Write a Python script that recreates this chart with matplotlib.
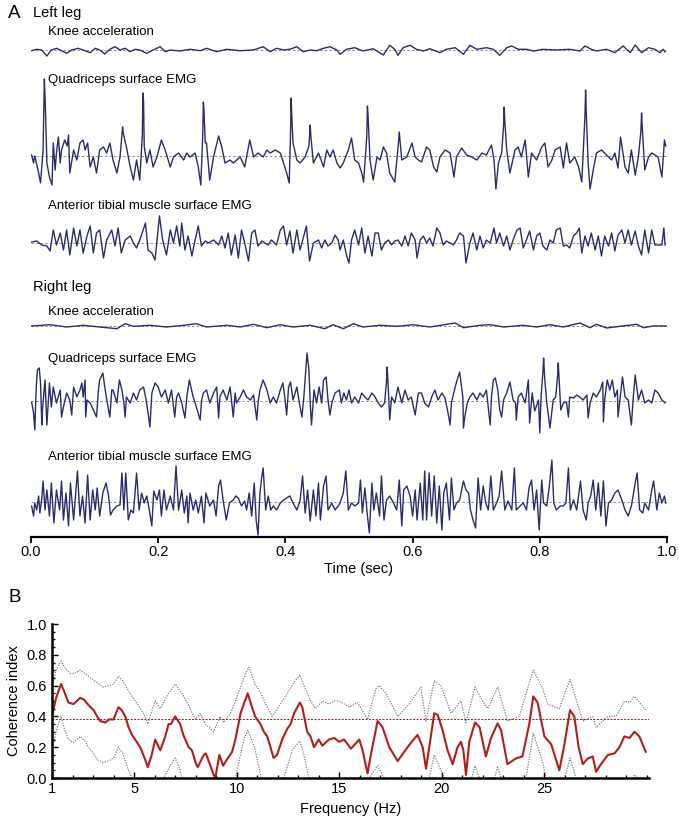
import numpy as np
import matplotlib.pyplot as plt
from matplotlib.ticker import MultipleLocator, FixedLocator

plt.rcParams['font.family'] = ['Liberation Sans', 'DejaVu Sans']

# ---- panel A: traces, (time in ms, amplitude in arbitrary units) ----
knee_left = [(1, -0.7), (9, 0.7), (17, 0), (25, -6), (32, 0), (40, 1.7), (48, -0.7), (56, -3.3),
             (64, 0), (74, 1.7), (82, 0), (93, -2.7), (101, 1.7), (108, 0), (116, -4), (124, 0.7),
             (132, 3.3), (140, 0), (148, 1.7), (156, -1.7), (164, 0.7), (171, 0), (182, -3.3),
             (192, 0), (203, 3.3), (211, -1.7), (219, 0), (234, -1), (250, 0.7), (266, -0.7),
             (276, 1.7), (292, -1.7), (308, 0.7), (329, -0.7), (350, 0), (365, 3.3), (376, -1.7),
             (386, 1.7), (397, 0), (407, 0.7), (418, 3.3), (428, -1.7), (439, 0), (449, -0.7),
             (460, 1.7), (470, 3.3), (481, 0), (486, -4.3), (496, 0.7), (509, 2.3), (522, -1),
             (538, 1.3), (554, -5), (564, 4.7), (572, 0.7), (577, -5.3), (585, 2.3), (596, 4.7),
             (606, 0.7), (617, -1), (627, 1.3), (643, -2.7), (653, 0.7), (667, 2.3), (680, -4.3),
             (690, 4.7), (701, 0.7), (716, 2.3), (727, 0.7), (737, -5.3), (748, 2.3), (756, 4),
             (766, 0.7), (779, 0.7), (790, -1), (805, 0.7), (826, 0), (847, 0.7), (863, -1),
             (871, 4), (881, 0.7), (889, -1), (905, 0.7), (918, -2.7), (931, 4), (942, -2.7),
             (950, 5), (960, -2.7), (971, 2.3), (981, 0.7), (989, -2.7), (994, 0.7), (997, -2)]

quad_left = [(1, 1), (4, -7), (6, 0), (12, -17), (15, -27), (19, 6), (21, 77), (22, 60), (23, 40),
             (25, -7), (29, -21), (33, -29), (35, 13), (38, -14), (40, 3), (43, 19), (46, -7),
             (48, 6), (53, 16), (57, 10), (59, 21), (61, -17), (67, 6), (72, -4), (77, 13),
             (82, 16), (85, 6), (89, 13), (93, -11), (98, -1), (103, -17), (108, 6), (114, 9),
             (119, 3), (124, 13), (129, -4), (135, -17), (140, -1), (144, 29), (145, 23), (150, 9),
             (156, -11), (161, -24), (166, -4), (171, -24), (175, 20), (176, 63), (177, 55),
             (178, 10), (182, -7), (187, 6), (192, -11), (198, -1), (205, 16), (211, 6),
             (219, -11), (224, -1), (232, 3), (240, -4), (245, 3), (250, -1), (258, 3), (263, -11),
             (267, -29), (270, 20), (271, 54), (272, 45), (274, 13), (276, 13), (281, -24),
             (287, -1), (295, 20), (300, 9), (305, -7), (313, -4), (318, -7), (329, -1),
             (336, -11), (344, 16), (350, -1), (357, 3), (365, -1), (371, 6), (376, 3), (384, 6),
             (392, 3), (397, -7), (402, -17), (406, -27), (408, 20), (409, 58), (410, 40),
             (412, 13), (418, -4), (423, -7), (431, -1), (437, 10), (439, 31), (440, 20),
             (444, -7), (452, 3), (460, -11), (465, 6), (470, -1), (475, 6), (481, -7),
             (486, -12), (491, -7), (499, 6), (504, 18), (509, -4), (515, -7), (520, -17),
             (523, -26), (528, 20), (529, 50), (530, 40), (533, -4), (538, -24), (544, -1),
             (549, -4), (554, 9), (559, 3), (564, -17), (572, -26), (578, 15), (579, 24),
             (581, 10), (583, -4), (591, -1), (599, 13), (604, -1), (609, -4), (614, -6),
             (622, 9), (627, 6), (633, -11), (638, -16), (643, -1), (651, 6), (659, 3),
             (665, -21), (669, -1), (677, 8), (685, 1), (693, -1), (701, -4), (709, 3), (716, 1),
             (724, 11), (728, -4), (731, -33), (735, -7), (740, 3), (743, 30), (744, 49),
             (745, 35), (748, 6), (753, -17), (761, 6), (766, 9), (771, -1), (777, 16),
             (782, -21), (787, 3), (795, -4), (803, 9), (808, 13), (813, -11), (819, -4),
             (824, 6), (832, 9), (837, -12), (842, 13), (847, -7), (855, -1), (861, -11),
             (866, -26), (871, 40), (872, 66), (873, 45), (876, -7), (879, -33), (884, -14),
             (889, 3), (897, 6), (905, 1), (913, -4), (918, 3), (923, -12), (927, 19),
             (934, -11), (939, -17), (944, 6), (950, -19), (955, -1), (959, 25), (960, 43),
             (961, 30), (965, -14), (971, -1), (976, 3), (981, 1), (986, -1), (992, -21),
             (996, 16), (998, 10)]

tib_left = [(1, 1), (9, 2), (17, -2), (25, -3), (30, -8), (35, 13), (40, -2), (46, 10), (51, -7),
            (56, 13), (61, -12), (67, 15), (72, -3), (77, 13), (82, -10), (88, 7), (93, 17),
            (98, -10), (103, 10), (108, 13), (114, -15), (119, 3), (127, 13), (132, -3),
            (137, 15), (142, -10), (148, 3), (156, 7), (161, 0), (166, -5), (171, 3), (180, 20),
            (184, -7), (190, -10), (195, -17), (202, 27), (207, 3), (213, -12), (219, 13),
            (224, 0), (229, 17), (234, -3), (237, 20), (242, -7), (247, 7), (253, -13), (258, 3),
            (263, 17), (268, -3), (274, 2), (279, 0), (287, 3), (295, -2), (300, 7), (305, -5),
            (310, 10), (315, -12), (321, 8), (326, -15), (331, 13), (336, 0), (342, -18),
            (347, 10), (352, 13), (357, -3), (363, 2), (368, 0), (373, -2), (378, 3), (386, -2),
            (392, 13), (397, 17), (402, -2), (407, 12), (412, -10), (418, 13), (423, -7),
            (428, 5), (433, 17), (438, -18), (444, 0), (452, 3), (457, -5), (462, 3), (467, -3),
            (473, 0), (478, 8), (483, 3), (486, -7), (491, 3), (496, -12), (500, -20), (504, 3),
            (509, 13), (515, -2), (520, 15), (525, -10), (530, 7), (536, -13), (541, 10),
            (546, 10), (551, -7), (556, 0), (562, 3), (567, -2), (572, 2), (577, 3), (583, -3),
            (588, 7), (593, -3), (598, 10), (604, 3), (607, -15), (612, 3), (617, 7), (622, 0),
            (627, 5), (632, -3), (638, 15), (643, 10), (648, -2), (653, 2), (659, 0), (664, -2),
            (669, 3), (674, 10), (680, 7), (684, -20), (690, 0), (695, 10), (701, -7), (706, 7),
            (711, -5), (716, 3), (722, 0), (728, 15), (732, 0), (737, 10), (743, -3), (748, 7),
            (753, -7), (758, 3), (764, 13), (769, 15), (774, -5), (779, 3), (784, 12), (790, -7),
            (795, 7), (800, 10), (805, -3), (811, -7), (816, 3), (821, 0), (826, 13), (832, 15),
            (837, -3), (842, -2), (847, -5), (853, 7), (858, 10), (862, 15), (866, -10),
            (871, 7), (876, -3), (881, 10), (887, -7), (892, 7), (897, -13), (902, 7), (908, -3),
            (913, 10), (918, -8), (923, 8), (929, 13), (934, 0), (939, 13), (944, -2), (950, 12),
            (955, -3), (960, -12), (965, 13), (971, -10), (976, 13), (981, -2), (986, -2),
            (992, -2), (995, 15), (997, -2)]

knee_right = [(1, 0), (30, 1.3), (56, -1), (82, 0.7), (108, -1), (135, -2.7), (148, 2.3),
              (161, -0.3), (187, 0.7), (213, -1), (240, 0.7), (260, 2.3), (276, -1), (308, 0.7),
              (329, -1), (350, 1.7), (371, -1.7), (392, 1.3), (412, -1), (439, 0.7), (462, -2.7),
              (475, 1.3), (491, -2.7), (507, 2.3), (522, -1), (549, 0.7), (575, -0.3), (601, 1.3),
              (627, -1), (667, 3), (680, -1.7), (706, 0.7), (722, 1.3), (743, -1), (774, 0.7),
              (795, -1), (816, 1.3), (837, -1), (863, 3), (879, -1.7), (889, 1.7), (905, -2),
              (926, -0.3), (952, 1.7), (963, -1.7), (978, 0), (999, 0)]

quad_right = [(1, -1), (4, -12), (6, -29), (8, 11), (10, 31), (13, 33), (15, 18), (17, -24),
              (18, -9), (22, 21), (25, -24), (29, 18), (32, -6), (35, 14), (40, -2), (46, 11),
              (48, -16), (51, -6), (56, 8), (61, 1), (64, -14), (67, 14), (72, 4), (77, 11),
              (80, 18), (82, 4), (85, 21), (86, -16), (88, 1), (93, -2), (98, -9), (103, -16),
              (106, 11), (108, 21), (113, 28), (116, 14), (120, -2), (124, -16), (127, 11),
              (129, 11), (135, -2), (139, 21), (143, 11), (146, -2), (148, -16), (150, 4),
              (156, -2), (161, 8), (166, 1), (171, 11), (177, 14), (181, 1), (185, -16),
              (187, -26), (190, 8), (195, 18), (200, 14), (205, 4), (211, 11), (216, -2),
              (221, 11), (226, -16), (229, 4), (232, 8), (237, -2), (242, -17), (245, 4),
              (249, 21), (255, 4), (260, -6), (266, -19), (268, 0), (271, 8), (276, 11),
              (281, -2), (287, 8), (292, 14), (295, -17), (297, 4), (302, 11), (308, 1),
              (313, 14), (318, -16), (321, 8), (323, -2), (329, 4), (334, 11), (339, 4), (345, 1),
              (350, 6), (355, -19), (357, -2), (360, 11), (365, 21), (371, 11), (376, -2),
              (381, 4), (386, -2), (392, 11), (396, 18), (399, 4), (402, -14), (405, 14),
              (408, 19), (412, 1), (418, 14), (422, -2), (426, -16), (429, 4), (432, 31),
              (434, 48), (437, 31), (439, -2), (441, -24), (445, 11), (449, -2), (453, 14),
              (457, -2), (460, 21), (464, 24), (467, 1), (470, -14), (473, -2), (478, 8),
              (485, 11), (488, -2), (492, 8), (496, 1), (500, 11), (504, -2), (509, 4), (515, -2),
              (520, 8), (525, 4), (530, 1), (536, 8), (541, 4), (546, -2), (551, -6), (556, -2),
              (559, 20), (560, 34), (562, 10), (564, -19), (567, 4), (572, -2), (577, 14),
              (583, -2), (588, 11), (593, 1), (598, 4), (604, -14), (609, 8), (614, 8), (619, -2),
              (625, -6), (630, 4), (635, 11), (640, 1), (646, 8), (651, 3), (656, -13),
              (659, -24), (661, -2), (667, 14), (670, 21), (674, 29), (679, 4), (680, -27),
              (682, -16), (686, -2), (690, 4), (695, 8), (701, 1), (706, 8), (711, 4), (716, 11),
              (722, -24), (724, 4), (727, 21), (730, 23), (734, 11), (737, -9), (740, -16),
              (743, 1), (748, 8), (753, 19), (758, 1), (762, -2), (763, -19), (766, 4), (771, 8),
              (777, -2), (782, 21), (784, -22), (788, 8), (792, -10), (798, 1), (800, -32),
              (802, 4), (805, 30), (806, 43), (808, 20), (811, -2), (816, -27), (821, 1),
              (825, 4), (828, 25), (829, 38), (831, 15), (833, -9), (837, -2), (842, -1),
              (845, -16), (847, 4), (853, 3), (858, 6), (863, 4), (868, 1), (874, 6), (876, -17),
              (879, -2), (884, 8), (889, 4), (895, 11), (899, 19), (900, -21), (902, 1),
              (906, 21), (910, 11), (914, 21), (918, 4), (922, 11), (923, -16), (926, 1),
              (930, 24), (934, 4), (939, 1), (944, -24), (947, 4), (950, 26), (955, 1),
              (960, 11), (965, -2), (971, 1), (976, -2), (981, 11), (986, 8), (992, 1), (997, -2)]

tib_right = [(1, -4), (4, -14), (6, -1), (9, -8), (12, 6), (14, -11), (17, 4), (19, 21), (22, -8),
             (25, 12), (29, -14), (32, 19), (36, -21), (40, 12), (45, -8), (48, 21), (51, -18),
             (55, 9), (59, -24), (62, 19), (67, -18), (73, 31), (77, -14), (81, 6), (85, -21),
             (89, 27), (93, -18), (97, 12), (101, -8), (104, 14), (108, -14), (113, 9),
             (118, 19), (122, 6), (125, -13), (129, -8), (135, -4), (140, -3), (143, 29),
             (146, -8), (149, 29), (153, -18), (157, -8), (161, -11), (166, 29), (170, -8),
             (174, 9), (178, -1), (182, 6), (186, -8), (190, -24), (193, 11), (198, 2), (202, 12),
             (205, -14), (209, 12), (213, -8), (219, 6), (224, -8), (228, 36), (232, -8),
             (237, 12), (241, -11), (245, 6), (247, -21), (250, 9), (255, -8), (259, 2),
             (263, -11), (268, 6), (272, -21), (275, 9), (281, -4), (287, 2), (291, -14),
             (295, 16), (298, 22), (302, 2), (307, -18), (312, -1), (318, 2), (322, 6), (326, 4),
             (331, -4), (336, 1), (339, -8), (343, 9), (347, -14), (351, 19), (354, -18),
             (357, -33), (360, 9), (363, 26), (365, 34), (369, -8), (373, 6), (377, -8),
             (381, -4), (386, -8), (392, -1), (397, 2), (402, 4), (407, 6), (412, -1), (418, -8),
             (423, 1), (427, 26), (431, -11), (435, 12), (439, -19), (444, 12), (448, -14),
             (452, 19), (455, -18), (460, 16), (464, 26), (467, -8), (473, -1), (478, -8),
             (483, -4), (486, -1), (491, 9), (495, 31), (499, -8), (504, -1), (509, -4),
             (515, -1), (518, 22), (521, -11), (525, 14), (529, -14), (532, -31), (536, 19),
             (539, -8), (543, 9), (548, -14), (551, 26), (555, -18), (559, 2), (564, 6),
             (570, -1), (575, -8), (579, 22), (583, -24), (586, 12), (591, 16), (596, 6),
             (600, -14), (604, 12), (607, -18), (612, 19), (616, -18), (619, 31), (622, -18),
             (626, 29), (630, -14), (634, 26), (638, -21), (642, 16), (646, -28), (649, 9),
             (653, 19), (658, -18), (661, 24), (665, -8), (669, -1), (674, 2), (680, 21),
             (684, 12), (688, 9), (691, -8), (695, -18), (699, -26), (703, 24), (707, -8),
             (711, 16), (715, -1), (719, -8), (723, 26), (727, -8), (732, -1), (736, 6),
             (740, 31), (745, -8), (750, 1), (756, -8), (760, 34), (763, -8), (769, -4),
             (774, -1), (779, -8), (783, 14), (787, 22), (791, -8), (795, 12), (799, -28),
             (803, 22), (806, -1), (811, -4), (815, 16), (819, 42), (822, -1), (826, -8),
             (832, -4), (837, -4), (841, -1), (845, 34), (848, -8), (853, 2), (858, -8),
             (864, 21), (868, -8), (873, -18), (876, -1), (880, 6), (884, 22), (888, -8),
             (892, 19), (896, -14), (900, 21), (904, -24), (908, -1), (913, 2), (918, 9),
             (923, 12), (929, 2), (934, -8), (939, -14), (944, -4), (950, 19), (953, 29),
             (957, -8), (962, -11), (965, -1), (971, -8), (976, 12), (979, 21), (984, -8),
             (988, 9), (992, -1), (996, 6), (998, -1)]

# ---- panel B: coherence (frequency in Hz, coherence index) ----
coh_mean = [(1.0, 0.40), (1.2, 0.52), (1.44, 0.61), (1.6, 0.56), (1.8, 0.49), (2.05, 0.48),
            (2.37, 0.52), (2.55, 0.51), (2.8, 0.47), (3.03, 0.44), (3.2, 0.40), (3.35, 0.37),
            (3.6, 0.36), (3.77, 0.38), (4.0, 0.38), (4.24, 0.46), (4.4, 0.44), (4.57, 0.40),
            (4.73, 0.33), (4.9, 0.28), (5.05, 0.25), (5.3, 0.20), (5.54, 0.12), (5.67, 0.07),
            (5.86, 0.15), (6.03, 0.25), (6.2, 0.20), (6.28, 0.18), (6.52, 0.27), (6.68, 0.35),
            (6.8, 0.35), (7.0, 0.40), (7.25, 0.35), (7.4, 0.28), (7.66, 0.20), (7.82, 0.18),
            (8.0, 0.10), (8.1, 0.07), (8.4, 0.15), (8.5, 0.16), (8.72, 0.08), (8.88, 0.02),
            (8.96, 0.00), (9.16, 0.15), (9.34, 0.08), (9.53, 0.12), (9.78, 0.17), (9.94, 0.25),
            (10.19, 0.42), (10.4, 0.50), (10.54, 0.55), (10.7, 0.48), (10.9, 0.40), (11.16, 0.35),
            (11.33, 0.30), (11.49, 0.27), (11.65, 0.20), (11.8, 0.13), (11.97, 0.15), (12.22, 0.25),
            (12.47, 0.32), (12.63, 0.35), (12.8, 0.42), (13.08, 0.49), (13.2, 0.46), (13.44, 0.30),
            (13.6, 0.27), (13.77, 0.20), (14.0, 0.25), (14.18, 0.21), (14.5, 0.25), (14.76, 0.26),
            (15.0, 0.235), (15.24, 0.25), (15.57, 0.19), (15.98, 0.25), (16.14, 0.18),
            (16.38, 0.03), (16.54, 0.15), (16.87, 0.37), (17.11, 0.33), (17.44, 0.20),
            (17.85, 0.11), (18.17, 0.17), (18.5, 0.23), (18.82, 0.28), (19.07, 0.20), (19.23, 0.06),
            (19.39, 0.20), (19.63, 0.42), (19.8, 0.41), (20.04, 0.31), (20.28, 0.18), (20.53, 0.09),
            (20.77, 0.20), (20.93, 0.235), (21.05, 0.18), (21.18, 0.02), (21.34, 0.235),
            (21.62, 0.36), (21.84, 0.33), (22.15, 0.14), (22.4, 0.26), (22.72, 0.355),
            (22.89, 0.31), (23.2, 0.09), (23.6, 0.126), (23.93, 0.14), (24.27, 0.355),
            (24.46, 0.53), (24.67, 0.49), (25.0, 0.27), (25.33, 0.22), (25.73, 0.05),
            (25.98, 0.22), (26.25, 0.44), (26.46, 0.40), (26.67, 0.20), (26.87, 0.09),
            (27.11, 0.126), (27.36, 0.14), (27.52, 0.04), (27.76, 0.09), (28.1, 0.15),
            (28.42, 0.16), (28.66, 0.20), (28.9, 0.27), (29.15, 0.26), (29.39, 0.30),
            (29.63, 0.27), (29.94, 0.17)]

coh_upper = [(1.0, 0.60), (1.2, 0.70), (1.44, 0.76), (1.6, 0.72), (1.88, 0.68), (2.1, 0.68),
             (2.37, 0.70), (2.6, 0.68), (2.78, 0.66), (3.0, 0.64), (3.18, 0.62), (3.5, 0.59),
             (3.75, 0.60), (4.0, 0.61), (4.24, 0.66), (4.45, 0.63), (4.8, 0.55), (5.06, 0.50),
             (5.46, 0.42), (5.67, 0.35), (5.9, 0.45), (6.03, 0.50), (6.28, 0.45), (6.68, 0.55),
             (7.01, 0.61), (7.33, 0.55), (7.66, 0.47), (7.99, 0.38), (8.23, 0.42), (8.48, 0.35),
             (8.88, 0.30), (9.2, 0.40), (9.37, 0.36), (9.7, 0.42), (9.94, 0.50), (10.27, 0.62),
             (10.52, 0.70), (10.6, 0.72), (10.92, 0.60), (11.16, 0.56), (11.41, 0.48),
             (11.73, 0.40), (11.98, 0.45), (12.47, 0.55), (12.79, 0.62), (13.08, 0.67),
             (13.28, 0.60), (13.61, 0.50), (13.85, 0.45), (14.18, 0.50), (14.5, 0.48),
             (14.76, 0.50), (15.0, 0.50), (15.49, 0.46), (15.9, 0.49), (16.38, 0.38),
             (16.79, 0.58), (16.95, 0.60), (17.28, 0.55), (17.85, 0.40), (18.41, 0.48),
             (18.98, 0.59), (19.23, 0.37), (19.63, 0.63), (19.96, 0.60), (20.45, 0.42),
             (20.93, 0.50), (21.18, 0.36), (21.62, 0.59), (21.99, 0.50), (22.24, 0.45),
             (22.72, 0.59), (23.2, 0.37), (23.78, 0.40), (24.11, 0.55), (24.46, 0.70),
             (24.92, 0.58), (25.16, 0.48), (25.73, 0.45), (26.25, 0.64), (26.87, 0.37),
             (27.36, 0.40), (27.52, 0.33), (28.09, 0.40), (28.5, 0.40), (28.9, 0.50),
             (29.15, 0.49), (29.39, 0.53), (29.94, 0.44)]

coh_lower = [(1.0, 0.18), (1.2, 0.30), (1.44, 0.40), (1.6, 0.32), (1.8, 0.25), (2.04, 0.23),
             (2.37, 0.27), (2.6, 0.24), (2.78, 0.20), (3.02, 0.16), (3.18, 0.12), (3.5, 0.10),
             (3.75, 0.11), (4.0, 0.13), (4.24, 0.20), (4.45, 0.16), (4.73, 0.05), (4.89, 0.00),
             (5.1, -0.08), (6.0, -0.08), (6.44, 0.00), (6.76, 0.08), (7.01, 0.13), (7.2, 0.07),
             (7.34, 0.00), (7.5, -0.08), (9.78, -0.08), (9.94, 0.00), (10.35, 0.25),
             (10.54, 0.31), (10.87, 0.20), (11.2, 0.00), (11.5, -0.08), (12.0, -0.08),
             (12.3, 0.00), (12.71, 0.18), (13.08, 0.24), (13.28, 0.15), (13.52, 0.00),
             (13.8, -0.08), (16.2, -0.05), (16.46, 0.00), (16.87, 0.08), (17.2, 0.00),
             (17.5, -0.05), (19.0, -0.05), (19.39, 0.00), (19.63, 0.15), (19.96, 0.05),
             (20.12, 0.00), (20.4, -0.05), (21.2, -0.05), (21.46, 0.00), (21.62, 0.08),
             (21.83, 0.00), (22.1, -0.05), (22.4, -0.05), (22.56, 0.00), (22.72, 0.07),
             (22.89, 0.00), (23.2, -0.05), (24.0, -0.05), (24.11, 0.00), (24.46, 0.29),
             (24.92, 0.10), (25.08, 0.00), (25.4, -0.05), (25.7, -0.05), (25.98, 0.00),
             (26.25, 0.13), (26.54, 0.00), (26.8, -0.05), (29.0, -0.05), (29.3, 0.00),
             (29.39, 0.02), (29.6, 0.00), (29.94, -0.05)]
coh_threshold = 0.38

NAVY = '#2b2c6c'
W, H = 679, 819

fig = plt.figure(figsize=(W / 100, H / 100), dpi=100)

# panel A, y axis in screen pixels from the top
axA = fig.add_axes([31 / W, (H - 537) / H, 636 / W, 537 / H])
axA.set_xlim(0, 1)
axA.set_ylim(537, 0)
for s in ['top', 'right', 'left']:
    axA.spines[s].set_visible(False)
axA.spines['bottom'].set_linewidth(1.6)
axA.set_yticks([])
axA.set_xticks([0, 0.2, 0.4, 0.6, 0.8, 1.0])
axA.xaxis.set_major_formatter('{x:.1f}')
axA.tick_params(axis='x', direction='out', length=4, width=1.3, labelsize=10.5, pad=2)
axA.text((358 - 31) / 636, 569, 'Time (sec)', ha='center', va='center',
         fontsize=10.5, clip_on=False)

traces = [(knee_left, 50), (quad_left, 156), (tib_left, 243),
          (knee_right, 326), (quad_right, 401), (tib_right, 502)]
for data, base in traces:
    t, a = np.array(data, dtype=float).T
    axA.axhline(base, color='#808070', lw=0.6, dashes=(3, 2.5), zorder=1)
    axA.plot(t / 1000, base - a, color=NAVY, lw=1.0, zorder=2)

labels = [(33, 13, 'Left leg', 10.5), (48, 32, 'Knee acceleration', 9.5),
          (48, 80, 'Quadriceps surface EMG', 9.5),
          (48, 206, 'Anterior tibial muscle surface EMG', 9.5),
          (33, 287, 'Right leg', 10.5), (48, 312, 'Knee acceleration', 9.5),
          (48, 359, 'Quadriceps surface EMG', 9.5),
          (48, 457, 'Anterior tibial muscle surface EMG', 9.5)]
for px, py, s, fs in labels:
    axA.text((px - 31) / 636, py, s, ha='left', va='center', fontsize=fs, clip_on=False,
             bbox=dict(facecolor='white', edgecolor='none', pad=0.5))

fig.text(8 / W, 1 - 13 / H, 'A', fontsize=13.5, ha='left', va='center')
fig.text(8 / W, 1 - 598 / H, 'B', fontsize=13.5, ha='left', va='center')

# panel B
axB = fig.add_axes([52 / W, (H - 778) / H, 597 / W, 154 / H])
axB.set_xlim(1, 30.1)
axB.set_ylim(0, 1)
for s in ['top', 'right']:
    axB.spines[s].set_visible(False)
for s in ['left', 'bottom']:
    axB.spines[s].set_linewidth(1.8)

f, v = np.array(coh_upper).T
axB.plot(f, v, color='#707088', lw=0.85, ls=(0, (1, 1.2)))
f, v = np.array(coh_lower).T
axB.plot(f, v, color='#707088', lw=0.85, ls=(0, (1, 1.2)))
axB.axhline(coh_threshold, color='#8a1c1c', lw=0.7, ls=(0, (2, 1.5)))
f, v = np.array(coh_mean).T
axB.plot(f, v, color='#b01e1e', lw=1.5)

axB.xaxis.set_major_locator(FixedLocator([1, 5, 10, 15, 20, 25]))
axB.xaxis.set_minor_locator(MultipleLocator(1))
axB.yaxis.set_major_locator(MultipleLocator(0.2))
axB.yaxis.set_minor_locator(MultipleLocator(0.05))
axB.yaxis.set_major_formatter('{x:.1f}')
axB.tick_params(which='both', direction='in', width=1, labelsize=10.5)
axB.tick_params(which='major', length=4)
axB.tick_params(which='minor', length=2.5)
axB.tick_params(axis='x', pad=3)
axB.set_xlabel('Frequency (Hz)', fontsize=10.5, labelpad=4)
axB.set_ylabel('Coherence index', fontsize=10.5, labelpad=4)

fig.savefig('out.png', dpi=100)
